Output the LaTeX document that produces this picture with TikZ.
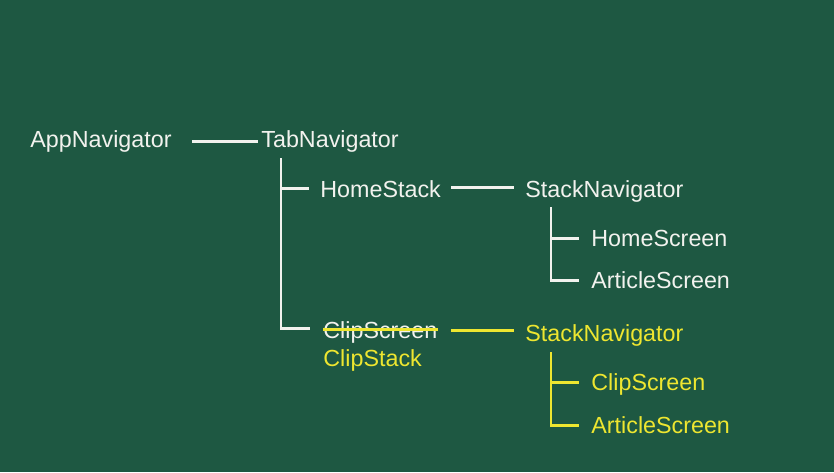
\documentclass[tikz,border=0pt]{standalone}
\usepackage{fontspec}
\setmainfont{Liberation Sans}
\usetikzlibrary{calc,positioning}
\definecolor{board}{RGB}{30,88,66}
\definecolor{chalkw}{RGB}{242,242,238}
\definecolor{chalky}{RGB}{238,230,48}
\begin{document}
\begin{tikzpicture}
[x=0.5pt,y=-0.5pt,
txt/.style={anchor=base west,inner sep=0pt,text=chalkw,font=\fontsize{11.65}{14}\selectfont},
ytxt/.style={txt,text=chalky},
chalk/.style={draw=chalkw,line width=1.4pt},
ychalk/.style={draw=chalky,line width=1.4pt},]
%Board
\fill[board] (0,0) rectangle (834,472);
\useasboundingbox (0,0) rectangle (834,472);

%Top level
\node (app) at (30,147)[txt] {AppNavigator};
\node (tab) at (261,147)[txt] {TabNavigator};

%Home branch
\node (home) at (320,197)[txt] {HomeStack};
\node (homenav) at (525,197)[txt] {StackNavigator};
\node (homescr) at (591,246)[txt] {HomeScreen};
\node (homeart) at (591,288)[txt] {ArticleScreen};

%Clip branch
\node (clipold) at (323,338)[txt] {ClipScreen};
\node (clipstack) at (323,366)[ytxt] {ClipStack};
\node (clipnav) at (525,341)[ytxt] {StackNavigator};
\node (clipscr) at (591,390)[ytxt] {ClipScreen};
\node (clipart) at (591,433)[ytxt] {ArticleScreen};

%Drawing the white lines
\draw[chalk,shorten <=10pt,shorten >=1.5pt] (app.mid east) -- (tab.mid west);
\draw[chalk] ([xshift=10pt,yshift=-3pt]tab.south west) |- ([xshift=-5.5pt,yshift=1.5pt]home.mid west);
\draw[chalk] ([xshift=10pt,yshift=-3pt]tab.south west) |- ([xshift=-6.5pt,yshift=2pt]clipold.mid west);
\draw[chalk,shorten <=5pt,shorten >=5.5pt] ([yshift=2pt]home.mid east) -- ([yshift=2pt]homenav.mid west);
\draw[chalk] ([xshift=13pt,yshift=-2.5pt]homenav.south west) |- ([xshift=-6pt,yshift=1pt]homescr.mid west);
\draw[chalk] ([xshift=13pt,yshift=-2.5pt]homenav.south west) |- ([xshift=-6pt,yshift=1pt]homeart.mid west);

%Drawing the yellow lines
\draw[ychalk] ([yshift=1.5pt]clipold.mid west) -- ([yshift=1.5pt]clipold.mid east);
\draw[ychalk,shorten <=6.5pt,shorten >=5.5pt] ([yshift=1pt]clipold.mid east) -- ([yshift=1pt]clipold.mid east -| clipnav.west);
\draw[ychalk] ([xshift=13pt,yshift=-3pt]clipnav.south west) |- ([xshift=-6pt,yshift=1pt]clipscr.mid west);
\draw[ychalk] ([xshift=13pt,yshift=-3pt]clipnav.south west) |- ([xshift=-6pt,yshift=1pt]clipart.mid west);
\end{tikzpicture}
\end{document}
